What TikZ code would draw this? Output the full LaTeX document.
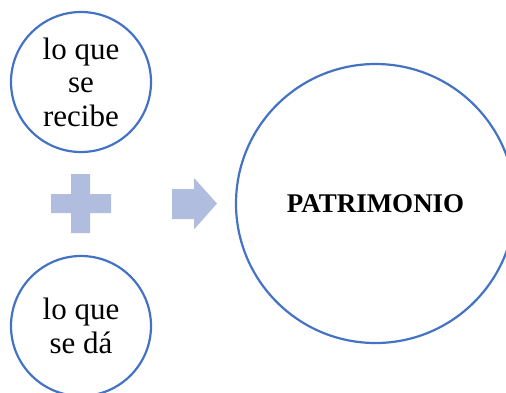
\documentclass[tikz,border=0pt]{standalone}
\usepackage{fontspec}
\setmainfont{Liberation Serif}
\usepackage{tikz}

\definecolor{ringblue}{HTML}{4472C4}
\definecolor{shapeblue}{HTML}{B0BDDF}

\begin{document}
\begin{tikzpicture}[x=1pt,y=-1pt,
    ring/.style={circle,draw=ringblue,line width=2.2pt,inner sep=0pt,align=center},
    sign/.style={fill=shapeblue,draw=none}]
            \useasboundingbox (0,0) rectangle (506,392);

            \node[ring,minimum size=140pt,font=\fontsize{31}{33.5}\selectfont] (recibe) at (81, 82) {lo que\\se\\recibe};
            \node[ring,minimum size=140pt,font=\fontsize{31}{33.5}\selectfont] (da) at (81, 326) {lo que\\se dá};
            \node[ring,minimum size=279pt,font=\fontsize{27}{30}\selectfont\bfseries] (patrimonio) at (375.5, 203.5) {PATRIMONIO};

            % plus sign
            \fill[sign] (51, 194) -- (71, 194) -- (71, 174) -- (90, 174) -- (90, 194) -- (111, 194)
                -- (111, 213) -- (90, 213) -- (90, 233) -- (71, 233) -- (71, 213) -- (51, 213) -- cycle;

            % arrow
            \fill[sign] (172, 189) -- (194, 189) -- (194, 178) -- (217, 203.5) -- (194, 229.5)
                -- (194, 219) -- (172, 219) -- cycle;
        \end{tikzpicture}
\end{document}
